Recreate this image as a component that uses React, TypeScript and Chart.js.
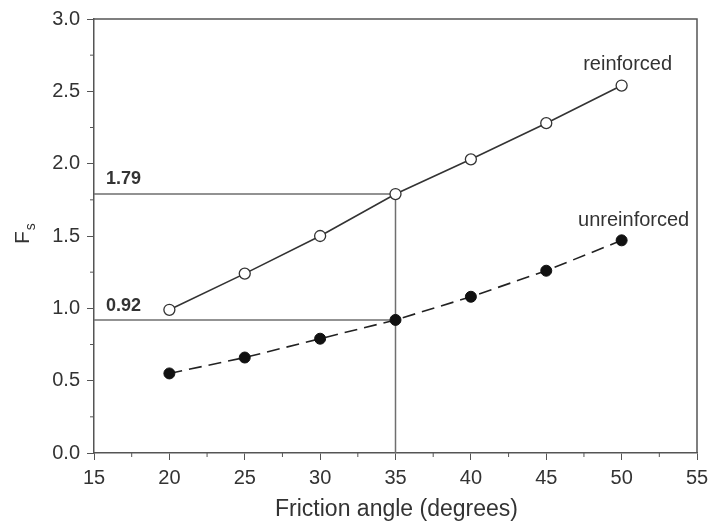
import React, { useEffect, useRef } from "react";
import { Chart, registerables } from "chart.js";

Chart.register(...registerables);

const frictionAngles = [20, 25, 30, 35, 40, 45, 50];
const reinforced = [0.99, 1.24, 1.5, 1.79, 2.03, 2.28, 2.54];
const unreinforced = [0.55, 0.66, 0.79, 0.92, 1.08, 1.26, 1.47];
const guideAngle = 35;
const guideReinforced = 1.79;
const guideUnreinforced = 0.92;
const guideLabels = ["1.79", "0.92"];
const seriesLabels = ["reinforced", "unreinforced"];
const xTitle = "Friction angle (degrees)";

const FONT = "'Liberation Sans', Arial, Helvetica, sans-serif";
const TEXT = "#333";
const AXIS = "#555";
const GUIDE = "#6f6f6f";

const decorPlugin = {
  id: "decor",
  afterDraw(chart: any) {
    const { ctx, chartArea, scales } = chart;
    const xs = scales.x;
    const ys = scales.y;
    ctx.save();
    // frame (top & right)
    ctx.strokeStyle = AXIS;
    ctx.lineWidth = 1.5;
    ctx.beginPath();
    ctx.moveTo(chartArea.left, chartArea.top);
    ctx.lineTo(chartArea.right, chartArea.top);
    ctx.lineTo(chartArea.right, chartArea.bottom);
    ctx.stroke();
    // minor ticks
    ctx.lineWidth = 1;
    ctx.beginPath();
    for (let v = 17.5; v < 55; v += 5) {
      const px = xs.getPixelForValue(v);
      ctx.moveTo(px, chartArea.bottom);
      ctx.lineTo(px, chartArea.bottom + 4);
    }
    for (let v = 0.25; v < 3; v += 0.5) {
      const py = ys.getPixelForValue(v);
      ctx.moveTo(chartArea.left, py);
      ctx.lineTo(chartArea.left - 4, py);
    }
    ctx.stroke();

    ctx.fillStyle = TEXT;
    // guide labels
    ctx.font = `bold 18px ${FONT}`;
    ctx.textAlign = "left";
    ctx.textBaseline = "middle";
    ctx.fillText(guideLabels[0], chartArea.left + 12, ys.getPixelForValue(guideReinforced) - 15);
    ctx.fillText(guideLabels[1], chartArea.left + 12, ys.getPixelForValue(guideUnreinforced) - 14);

    // series labels
    ctx.font = `20px ${FONT}`;
    ctx.textAlign = "center";
    const lastX = frictionAngles[frictionAngles.length - 1];
    const px = xs.getPixelForValue(lastX);
    ctx.fillText(seriesLabels[0], px + 6, ys.getPixelForValue(reinforced[reinforced.length - 1]) - 21);
    ctx.fillText(seriesLabels[1], px + 12, ys.getPixelForValue(unreinforced[unreinforced.length - 1]) - 20);

    // x title
    ctx.font = `23px ${FONT}`;
    ctx.textAlign = "center";
    ctx.fillText(xTitle, (chartArea.left + chartArea.right) / 2 + 1, 510);

    // y title F_s
    const cy = (chartArea.top + chartArea.bottom) / 2;
    ctx.translate(22, cy + 8);
    ctx.rotate(-Math.PI / 2);
    ctx.textAlign = "left";
    ctx.textBaseline = "alphabetic";
    ctx.font = `21px ${FONT}`;
    ctx.fillText("F", 0, 7);
    const w = ctx.measureText("F").width;
    ctx.font = `14px ${FONT}`;
    ctx.fillText("s", w + 1, 13);
    ctx.restore();
  },
};

export default function App() {
  const ref = useRef<HTMLCanvasElement>(null);
  useEffect(() => {
    document.body.style.margin = "0";
    const canvas = ref.current!;
    const chart = new Chart(canvas, {
      type: "scatter",
      data: {
        datasets: [
          {
            label: seriesLabels[0],
            data: frictionAngles.map((x, i) => ({ x, y: reinforced[i] })),
            showLine: true,
            borderColor: "#333",
            borderWidth: 1.6,
            pointRadius: 5.5,
            pointBorderWidth: 1.3,
            pointBackgroundColor: "#fff",
            pointBorderColor: "#333",
          },
          {
            label: seriesLabels[1],
            data: frictionAngles.map((x, i) => ({ x, y: unreinforced[i] })),
            showLine: true,
            borderColor: "#222",
            borderWidth: 1.6,
            borderDash: [13, 7],
            pointRadius: 5.5,
            pointBorderWidth: 1,
            pointBackgroundColor: "#111",
            pointBorderColor: "#111",
          },
          {
            label: "guide-r",
            data: [
              { x: 15, y: guideReinforced },
              { x: guideAngle, y: guideReinforced },
              { x: guideAngle, y: 0 },
            ],
            showLine: true,
            borderColor: GUIDE,
            borderWidth: 1.5,
            pointRadius: 0,
          },
          {
            label: "guide-u",
            data: [
              { x: 15, y: guideUnreinforced },
              { x: guideAngle, y: guideUnreinforced },
            ],
            showLine: true,
            borderColor: GUIDE,
            borderWidth: 1.5,
            pointRadius: 0,
          },
        ],
      },
      options: {
        animation: false,
        responsive: true,
        maintainAspectRatio: false,
        layout: { padding: { top: 19, right: 13, left: 0, bottom: 0 } },
        plugins: { legend: { display: false }, tooltip: { enabled: false } },
        scales: {
          x: {
            type: "linear",
            min: 15,
            max: 55,
            ticks: {
              stepSize: 5,
              color: TEXT,
              font: { family: FONT, size: 20 },
              padding: 6,
              maxRotation: 0,
            },
            grid: { display: true, drawOnChartArea: false, drawTicks: true, tickLength: 7, color: AXIS, lineWidth: 1 },
            border: { display: true, color: AXIS, width: 1.5 },
            afterFit: (s: any) => {
              s.height = 69;
              s.paddingLeft = 0;
              s.paddingRight = 0;
            },
          },
          y: {
            type: "linear",
            min: 0,
            max: 3,
            ticks: {
              stepSize: 0.5,
              color: TEXT,
              font: { family: FONT, size: 20 },
              padding: 7,
              callback: (v: any) => Number(v).toFixed(1),
            },
            grid: { display: true, drawOnChartArea: false, drawTicks: true, tickLength: 7, color: AXIS, lineWidth: 1 },
            border: { display: true, color: AXIS, width: 1.5 },
            afterFit: (s: any) => {
              s.width = 94;
              s.paddingTop = 0;
              s.paddingBottom = 0;
            },
          },
        },
      },
      plugins: [decorPlugin],
    });
    return () => chart.destroy();
  }, []);
  return (
    <div style={{ width: 710, height: 522, position: "relative" }}>
      <canvas ref={ref} />
    </div>
  );
}
